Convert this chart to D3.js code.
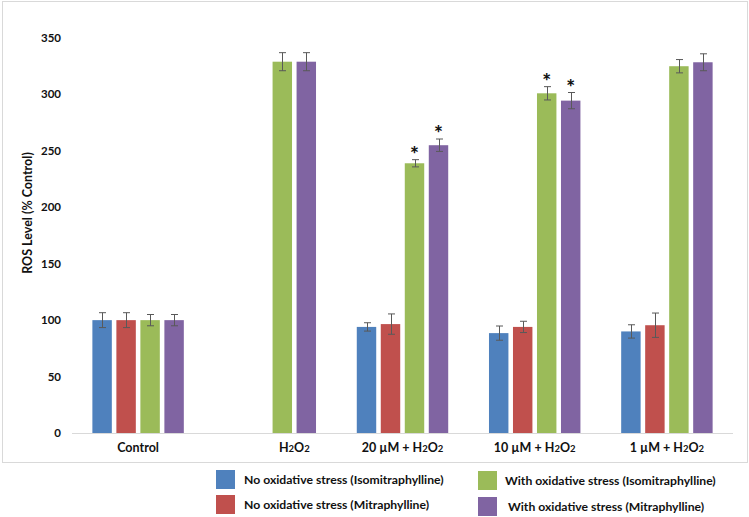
<!DOCTYPE html>
<html>
<head>
<meta charset="utf-8">
<script src="https://cdn.jsdelivr.net/npm/d3@7"></script>
<style>
  body { margin: 0; background: #fff; }
  svg text { font-family: Lato, "Open Sans", sans-serif; font-weight: bold; fill: #111; }
</style>
</head>
<body>
<script>
// categories along the x axis (H2O2 written with subscripts later)
var categories = ["Control", "H2O2", "20 \u00b5M + H2O2", "10 \u00b5M + H2O2", "1 \u00b5M + H2O2"];

// series names and colours
var seriesNames = [
  "No oxidative stress (Isomitraphylline)",
  "No oxidative stress (Mitraphylline)",
  "With oxidative stress (Isomitraphylline)",
  "With oxidative stress (Mitraphylline)"
];
var seriesColors = ["#4f81bd", "#c0504d", "#9bbb59", "#8064a2"];

// values (null = no bar)
var noStressIso  = [100, null, 94, 88.5, 90];
var noStressMit  = [100, null, 96.5, 94, 95.5];
var withStressIso = [100, 329, 239, 301, 325];
var withStressMit = [100, 329, 255, 294.5, 328.5];

// error bars
var errNoStressIso  = [6.6, null, 3.7, 6.3, 5.9];
var errNoStressMit  = [6.6, null, 9, 5, 10.8];
var errWithStressIso = [5, 8, 3.2, 5.9, 5.9];
var errWithStressMit = [5, 8, 5.5, 7.2, 7.5];

// significance asterisks
var sigNoStressIso  = [0, 0, 0, 0, 0];
var sigNoStressMit  = [0, 0, 0, 0, 0];
var sigWithStressIso = [0, 0, 1, 1, 0];
var sigWithStressMit = [0, 0, 1, 1, 0];

var yTicks = [0, 50, 100, 150, 200, 250, 300, 350];

var allValues = [noStressIso, noStressMit, withStressIso, withStressMit],
    allErrors = [errNoStressIso, errNoStressMit, errWithStressIso, errWithStressMit],
    allSig = [sigNoStressIso, sigNoStressMit, sigWithStressIso, sigWithStressMit];

var width = 749, height = 517;

var svg = d3.select("body").append("svg")
  .attr("width", width)
  .attr("height", height);

// outer frame
svg.append("rect")
  .attr("x", 2.5).attr("y", 1.5)
  .attr("width", 745).attr("height", 461)
  .attr("fill", "none")
  .attr("stroke", "#d9d9d9");

var x = d3.scaleBand()
  .domain(categories)
  .range([72, 733]);

var step = x.bandwidth();
var inner = d3.scaleBand()
  .domain(d3.range(4))
  .range([step / 2 - 48, step / 2 + 48])
  .paddingInner(0.19)
  .paddingOuter(0.095);

var y = d3.scaleLinear()
  .domain([0, 350])
  .range([433, 38]);

// y tick labels
svg.append("g").selectAll("text")
  .data(yTicks)
  .enter().append("text")
  .attr("x", 61)
  .attr("y", function(d) { return y(d); })
  .attr("dy", "0.35em")
  .attr("text-anchor", "end")
  .style("font-size", "11.5px")
  .text(function(d) { return d; });

// y axis title
svg.append("text")
  .attr("transform", "translate(32,213) rotate(-90)")
  .attr("text-anchor", "middle")
  .style("font-size", "12.5px")
  .text("ROS Level (% Control)");

// flatten to bar records
var bars = [];
allValues.forEach(function(vals, s) {
  vals.forEach(function(v, c) {
    if (v != null) {
      bars.push({ s: s, cat: categories[c], v: v, e: allErrors[s][c], sig: allSig[s][c] });
    }
  });
});

function barX(d) { return x(d.cat) + inner(d.s); }
function barMid(d) { return barX(d) + inner.bandwidth() / 2; }

svg.append("g").selectAll("rect")
  .data(bars)
  .enter().append("rect")
  .attr("x", barX)
  .attr("y", function(d) { return y(d.v); })
  .attr("width", inner.bandwidth())
  .attr("height", function(d) { return y(0) - y(d.v); })
  .attr("fill", function(d) { return seriesColors[d.s]; });

// x axis line
svg.append("line")
  .attr("x1", 72).attr("x2", 733)
  .attr("y1", y(0) + 0.5).attr("y2", y(0) + 0.5)
  .attr("stroke", "#d9d9d9");

// error bars
var eb = svg.append("g").attr("stroke", "#595959").attr("stroke-width", 1);
bars.forEach(function(d) {
  var cx = Math.round(barMid(d)) + 0.5;
  eb.append("line").attr("x1", cx).attr("x2", cx)
    .attr("y1", y(d.v + d.e)).attr("y2", y(d.v - d.e));
  eb.append("line").attr("x1", cx - 3.5).attr("x2", cx + 3.5)
    .attr("y1", y(d.v + d.e)).attr("y2", y(d.v + d.e));
  eb.append("line").attr("x1", cx - 3.5).attr("x2", cx + 3.5)
    .attr("y1", y(d.v - d.e)).attr("y2", y(d.v - d.e));
});

// asterisks
svg.append("g").selectAll("text")
  .data(bars.filter(function(d) { return d.sig; }))
  .enter().append("text")
  .attr("x", barMid)
  .attr("y", function(d) { return y(d.v + d.e) - 13; })
  .attr("dy", "0.72em")
  .attr("text-anchor", "middle")
  .style("font-size", "21px")
  .style("font-weight", "900")
  .text("*");

// label with small subscript digits in H2O2
function writeLabel(sel, label) {
  var m = label.split("H2O2");
  sel.append("tspan").text(m[0]);
  if (m.length > 1) {
    sel.append("tspan").text("H");
    sel.append("tspan").style("font-size", "9.5px").text("2");
    sel.append("tspan").text("O");
    sel.append("tspan").style("font-size", "9.5px").text("2");
  }
}

// category labels, centred on the bars present in each category
categories.forEach(function(c) {
  var present = bars.filter(function(d) { return d.cat === c; });
  var cx = (d3.min(present, barX) + d3.max(present, function(d) { return barX(d) + inner.bandwidth(); })) / 2;
  var t = svg.append("text")
    .attr("x", cx)
    .attr("y", 452)
    .attr("text-anchor", "middle")
    .style("font-size", "12.5px");
  writeLabel(t, c);
});

// legend
var legendPos = [[216, 470], [216, 495], [478, 471], [478, 497]];
var legendTextX = [244, 244, 505, 508];
var lg = svg.append("g");
seriesNames.forEach(function(n, i) {
  lg.append("rect")
    .attr("x", legendPos[i][0]).attr("y", legendPos[i][1])
    .attr("width", 19).attr("height", 19)
    .attr("fill", seriesColors[i]);
  lg.append("text")
    .attr("x", legendTextX[i])
    .attr("y", legendPos[i][1] + 9.5)
    .attr("dy", "0.35em")
    .style("font-size", "12.2px")
    .text(n);
});
</script>
</body>
</html>
